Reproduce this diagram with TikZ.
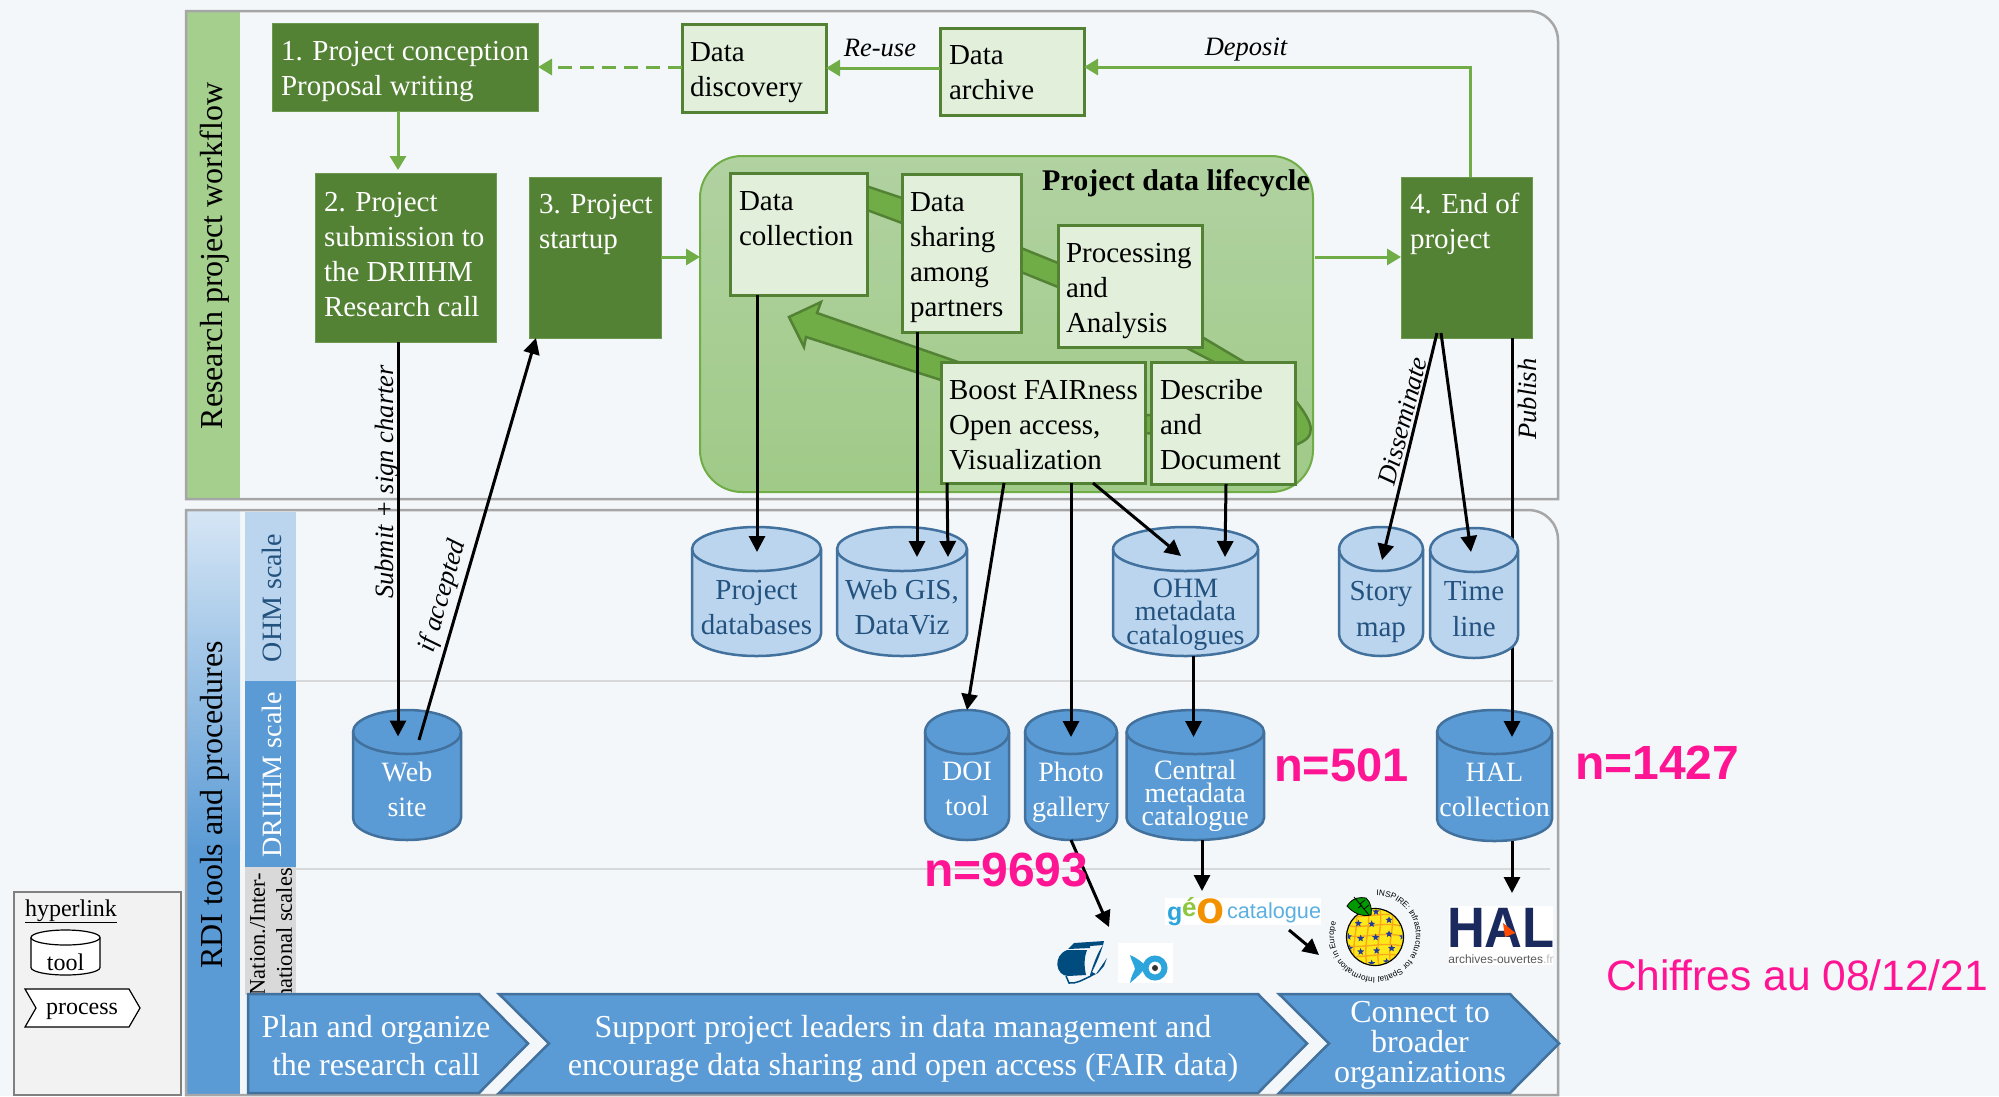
\documentclass[tikz,border=0pt]{standalone}
\usepackage{fontspec}
\setmainfont{Liberation Serif}
\setsansfont{Liberation Sans}
\usetikzlibrary{arrows.meta,calc,shapes.geometric,decorations.text}
\definecolor{pagebg}{HTML}{F3F7FA}
\definecolor{frameg}{HTML}{A6A6A6}
\definecolor{sepg}{HTML}{D6D8DA}
\definecolor{gdark}{HTML}{548235}
\definecolor{gmid}{HTML}{70AD47}
\definecolor{glight}{HTML}{E2EFDA}
\definecolor{gband}{HTML}{A4CF8C}
\definecolor{gtop}{HTML}{B1D2A1}
\definecolor{gbot}{HTML}{A0CA88}
\definecolor{bmid}{HTML}{5B9BD5}
\definecolor{bedge}{HTML}{41719C}
\definecolor{blight}{HTML}{BBD5EE}
\definecolor{bpale}{HTML}{D6E6F5}
\definecolor{bdark}{HTML}{23527F}
\definecolor{pinkn}{HTML}{FF1493}
\definecolor{halnavy}{HTML}{1B2A5E}
\definecolor{bookblue}{HTML}{004C7F}
\definecolor{fishblue}{HTML}{2CA5DC}
\definecolor{geoblue}{HTML}{5AB0E0}
\definecolor{geogreen}{HTML}{8DC63F}
\definecolor{geoorange}{HTML}{F39200}
\definecolor{ballyellow}{HTML}{FFE81A}
\definecolor{ballgrid}{HTML}{F7A81B}
\definecolor{ballstar}{HTML}{1F3C9C}
\tikzset{
  every node/.style={inner sep=0pt,outer sep=0pt},
  darkbox/.style={fill=gdark,draw=gdark!70!gband,line width=1pt,text=white,font=\fontsize{29}{35}\selectfont},
  lightbox/.style={fill=glight,draw=gdark,line width=3pt,text=black,font=\fontsize{29}{35}\selectfont},
  cyllight/.style={fill=blight,draw=bedge,line width=2.5pt},
  cyllighttxt/.style={text=bdark,font=\fontsize{29}{35}\selectfont},
  cyllighttight/.style={fill=blight,draw=bedge,line width=2.5pt},
  cyllighttighttxt/.style={text=bdark,font=\fontsize{28}{24}\selectfont},
  cyldark/.style={fill=bmid,draw=bedge,line width=2.5pt},
  cyldarktxt/.style={text=white,font=\fontsize{28}{35}\selectfont},
  cyllegend/.style={fill=white,draw=black,line width=1.2pt},
  cyllegendtxt/.style={text=black,font=\fontsize{24}{28}\selectfont},
  blk/.style={draw=black,line width=3pt,-{Triangle[length=16pt,width=16pt]}},
  grn/.style={draw=gmid,line width=3pt,-{Triangle[length=14pt,width=16pt]}},
  chev/.style={fill=bmid,draw=bedge,line width=2.5pt},
  chevtxt/.style={text=white,align=center},
  slabel/.style={font=\fontsize{26.5}{30}\itshape\selectfont,text=black},
  pinkbig/.style={text=pinkn,anchor=base west},
}
% style, name, x0, y0, x1, y1, inset, first baseline, text
\newcommand\bxnode[9]{%
  \pgfmathsetmacro\bw{#5-#3}\pgfmathsetmacro\bh{#6-#4}%
  \pgfmathsetmacro\bcx{(#3+#5)/2}\pgfmathsetmacro\bcy{(#4+#6)/2}%
  \node[#1] (#2) at (\bcx,\bcy) {\parbox[c][\bh pt][t]{\bw pt}{\raggedright\leftskip=#7pt\relax\baselineskip=35pt\relax\rule{0pt}{#8pt}#9}};%
}
\newcommand\cylry{22}
% style, name, x0, y0, x1, y1, first baseline, baselineskip, text
\newcommand\cylnode[9]{%
  \pgfmathsetmacro\cw{#5-#3}\pgfmathsetmacro\ch{#6-#4}%
  \pgfmathsetmacro\cx{(#3+#5)/2}\pgfmathsetmacro\cy{(#4+#6)/2}%
  \pgfmathsetmacro\rxx{(#5-#3)/2}%
  \pgfmathsetmacro\ka{#4+\cylry}\pgfmathsetmacro\kb{#6-\cylry}%
  \pgfmathsetmacro\ua{#4+\cylry*0.448}\pgfmathsetmacro\ub{#4+\cylry*1.552}%
  \pgfmathsetmacro\uc{#4+2*\cylry}\pgfmathsetmacro\ud{#6-\cylry*0.448}%
  \pgfmathsetmacro\xl{\cx-\rxx*0.552}\pgfmathsetmacro\xr{\cx+\rxx*0.552}%
  \path[#1] (#3,\ka) .. controls (#3,\ua) and (\xl,#4) .. (\cx,#4)
     .. controls (\xr,#4) and (#5,\ua) .. (#5,\ka) -- (#5,\kb)
     .. controls (#5,\ud) and (\xr,#6) .. (\cx,#6)
     .. controls (\xl,#6) and (#3,\ud) .. (#3,\kb) -- cycle;
  \path[#1,fill=none] (#3,\ka) .. controls (#3,\ub) and (\xl,\uc) .. (\cx,\uc)
     .. controls (\xr,\uc) and (#5,\ub) .. (#5,\ka);
  \node[#1txt] (#2) at (\cx,\cy) {\parbox[c][\ch pt][t]{\cw pt}{\centering\baselineskip=#8pt\relax\rule{0pt}{#7pt}#9}};%
}
\begin{document}
\begin{tikzpicture}[x=1pt,y=-1pt]
\useasboundingbox (0,0) rectangle (1999,1096);
\fill[pagebg] (0,0) rectangle (1999,1096);

% coloured bands
\fill[gband] (186,11) rectangle (240,499);
\shade[top color=bpale,bottom color=bmid] (186,510) rectangle (240,850);
\fill[bmid] (186,849.5) rectangle (240,1096);
\fill[blight] (245,512) rectangle (296,681);
\fill[bmid] (245,681) rectangle (296,867);
\fill[black!15] (245,867) rectangle (296,995);

% frames
\draw[frameg,line width=2.5pt] (186,499) -- (186,11) -- (1528,11) .. controls (1545,11) and (1558,24) .. (1558,41) -- (1558,499) -- cycle;
\draw[frameg,line width=2.5pt] (186,1095) -- (186,510) -- (1528,510) .. controls (1545,510) and (1558,523) .. (1558,540) -- (1558,1095) -- cycle;
\draw[sepg,line width=1.6pt] (296,681) -- (1553,681);
\draw[sepg,line width=1.6pt] (296,869) -- (1550,869);

% band labels
\node[rotate=90,font=\fontsize{32}{36}\selectfont] (lwork) at (215,256) {Research project workflow};
\node[rotate=90,font=\fontsize{32}{36}\selectfont] (lrdi) at (215,805) {RDI tools and procedures};
\node[rotate=90,font=\fontsize{28}{32}\selectfont,text=bdark] (lohm) at (272,598) {OHM scale};
\node[rotate=90,font=\fontsize{28}{32}\selectfont,text=white] (ldri) at (272,775) {DRIIHM scale};
\node[rotate=90,font=\fontsize{22.5}{27}\selectfont,align=center,text=black] (lnat) at (271,934) {Nation./Inter-\\national scales};

% lifecycle panel
\shade[top color=gtop,bottom color=gbot,draw=gmid,line width=2pt,rounded corners=42pt] (700,156) rectangle (1313,492);
\node[font=\fontsize{30}{35}\bfseries\selectfont] (llife) at (1176,183) {Project data lifecycle};

% loop arrow
\filldraw[fill=gmid,draw=gdark,line width=2.5pt,line join=miter]
  (860,184) -- (902,198) -- (1021,248) -- (1058,263) -- (1202,337) -- (1244,362) -- (1295,400)
  .. controls (1314,424) and (1318,437) .. (1295,445)
  -- (1145,433) -- (1100,420) -- (941,380) -- (806,337) -- (804,347) -- (789,317) -- (821,302) -- (817,313)
  -- (958,362) -- (1100,400) -- (1145,415) -- (1200,415) -- (1225,400) -- (1214,362) -- (1185,347)
  -- (1058,287) -- (1021,272) -- (902,223) -- (867,210) -- (860,207) -- cycle;

% boxes
\bxnode{darkbox}{bone}{272}{23}{538}{111}{9}{37}{1. Project conception\\Proposal writing}
\bxnode{darkbox}{btwo}{315}{173}{496}{342}{9}{38}{2. Project\\submission to\\the DRIIHM\\Research call}
\bxnode{darkbox}{bthree}{529}{177}{661}{338}{10}{36}{3. Project\\startup}
\bxnode{darkbox}{bfour}{1401}{177}{1532}{338}{9}{36}{4. End of\\project}
\bxnode{lightbox}{bdisc}{682}{24}{826}{112}{8}{37}{Data\\discovery}
\bxnode{lightbox}{barch}{940}{28}{1084}{115}{9}{36}{Data\\archive}
\bxnode{lightbox}{bcoll}{730}{173}{867}{295}{9}{37}{Data\\collection}
\bxnode{lightbox}{bshar}{902}{174}{1021}{332}{8}{37}{Data\\sharing\\among\\partners}
\bxnode{lightbox}{bproc}{1058}{225}{1202}{347}{8}{37}{Processing\\and\\Analysis}
\bxnode{lightbox}{bboost}{941}{362}{1145}{483}{8}{37}{Boost FAIRness\\Open access,\\Visualization}
\bxnode{lightbox}{bdesc}{1151}{362}{1295}{484}{9}{37}{Describe\\and\\Document}

% green connectors
\draw[grn] ($(bone.south west)+(126,0)$) -- ($(btwo.north west)+(83,-3)$);
\draw[grn,dashed,dash pattern=on 14pt off 8pt] (bdisc.west |- 0,67) -- (bone.east |- 0,67);
\draw[grn] (barch.west |- 0,68) -- (bdisc.east |- 0,68);
\draw[grn] ($(bfour.north west)+(69,0)$) |- (barch.east |- 0,67);
\draw[grn] (bthree.east |- 0,257) -- (700,257);
\draw[grn] (1315,257) -- (bfour.west |- 0,257);

% line that runs behind the Time line cylinder
\draw[draw=black,line width=3pt] ($(bfour.south west)+(111,0)$) -- (1512,700);

% cylinders
\cylnode{cyllight}{cdb}{692}{527}{821}{656}{72}{35}{Project\\databases}
\cylnode{cyllight}{cgis}{837}{527}{967}{656}{72}{35}{Web GIS,\\DataViz}
\cylnode{cyllighttight}{cohm}{1113}{527}{1258}{656}{70}{23.5}{OHM\\metadata\\catalogues}
\cylnode{cyllight}{cstory}{1339}{527}{1423}{656}{73}{36}{Story\\map}
\cylnode{cyllight}{ctime}{1430}{528}{1518}{658}{72}{36}{Time\\line}
\cylnode{cyldark}{cweb}{353}{710}{461}{840}{71}{35}{Web\\site}
\cylnode{cyldark}{cdoi}{925}{710}{1009}{840}{70}{35}{DOI\\tool}
\cylnode{cyldark}{cphoto}{1025}{710}{1117}{840}{71}{35}{Photo\\gallery}
\cylnode{cyldark}{ccent}{1126.5}{710}{1264}{840}{69}{23}{Central\\metadata\\catalogue}
\cylnode{cyldark}{chal}{1437}{710}{1552}{841}{71}{35}{HAL\\collection}

% logo: geo catalogue
\node[fill=white,minimum width=156pt,minimum height=27pt] (lgeo) at (1243,911.5) {};
\node[anchor=base west,font=\sffamily\bfseries\fontsize{25}{27}\selectfont,text=fishblue] (geog) at (1167,920) {g};
\node[anchor=base west,font=\sffamily\bfseries\fontsize{26}{27}\selectfont,text=geogreen] (geoe) at (1182,916) {é};
\node[anchor=base west,font=\sffamily\bfseries\fontsize{46}{48}\selectfont,text=geoorange] (geoo) at (1196,923.5) {o};
\node[anchor=base west,font=\sffamily\fontsize{21.7}{25}\selectfont,text=geoblue] (geoc) at (1227,918) {catalogue};

% logo: HAL
\node[fill=white,minimum width=104pt,minimum height=59pt] (lhal) at (1501,935.5) {};
\node[anchor=base,xscale=.92,font=\sffamily\bfseries\fontsize{57}{60}\selectfont,text=halnavy] (haltxt) at (1501,947) {HAL};
\fill[orange!60!red] (1503,923) -- (1515.5,933) -- (1505,937) -- cycle;
\node[anchor=base,font=\sffamily\fontsize{12}{14}\selectfont,text=black!65] (halsub) at (1501,963) {archives-ouvertes{\color{black!25}.fr}};

% logo: book
\fill[bookblue] (1067,950) -- (1087,950) .. controls (1084,958) and (1084,966) .. (1086,975) -- (1068,976)
   .. controls (1056,976) and (1052,956) .. (1067,950) -- cycle;
\fill[bookblue] (1068,949) -- (1074,943) -- (1104,941) -- (1103,945) -- (1090,946) -- (1090,948) -- cycle;
\fill[bookblue] (1103,945) .. controls (1100,955) and (1096,964) .. (1092,972) -- (1096,974) -- (1107,958) -- (1104,966) -- (1098,973) -- (1090,977) -- (1090,975) .. controls (1094,962) and (1098,952) .. (1103,945) -- cycle;
\draw[bookblue,line width=1.5pt] (1091,976) .. controls (1082,980) and (1076,984) .. (1069,983) -- (1066,976);

% logo: fish
\node[fill=white,minimum width=55pt,minimum height=40pt] (lfish) at (1145.5,963) {};
\fill[fishblue] (1130,955) .. controls (1137,958) and (1142,962) .. (1146,966)
   .. controls (1143,972) and (1136,978) .. (1130,983) .. controls (1131,976) and (1134,972) .. (1135,969)
   .. controls (1134,964) and (1131,960) .. (1130,955) -- cycle;
\node[circle,minimum size=19pt,fill=white,draw=fishblue,line width=6pt] (fisheye) at (1155,968) {};
\fill[black!80] (1155,968) circle[radius=3];

% logo: INSPIRE
\node[circle,minimum size=57pt,fill=ballyellow,draw=black,line width=1.2pt] (ball) at (1375,937) {};
\begin{scope}
\clip (1375,937) circle[radius=27.5];
\foreach \yy in {915,925,935,945,955}
  \draw[ballgrid,line width=1.4pt] (1345,\yy) .. controls (1360,\yy+5) and (1385,\yy-5) .. (1405,\yy+2);
\foreach \xx in {1355,1367,1379,1391}
  \draw[ballgrid,line width=1.4pt] (\xx,905) .. controls (\xx+6,925) and (\xx-6,945) .. (\xx+1,970);
\foreach \sx/\sy [count=\si] in {115/130,155/132,207/120,245/130,85/170,122/175,167/172,207/162,248/170,122/215,170/212,215/205,155/250,200/245,88/205,168/95}
  \node[star,star points=5,star point ratio=2.3,minimum size=7.5pt,fill=ballstar,name=st\si] at ({1320+\sx/3},{880+\sy/3}) {};
\end{scope}
\filldraw[fill=green!60!black,draw=black,line width=.8pt] (1347,906) .. controls (1353,897) and (1360,897) .. (1366,898)
   .. controls (1371,902) and (1372,910) .. (1371,915) .. controls (1362,917) and (1353,913) .. (1347,906) -- cycle;
\draw[black,line width=.8pt] (1354,897) -- (1369,915) (1360,904) -- (1365,900) (1364,909) -- (1369,905) (1358,908) -- (1362,905);
\begin{scope}[shift={(1375pt,-936pt)},x=1pt,y=1pt]
\path[postaction={decorate},decoration={text along path,text align=left,
   text={|\sffamily\fontsize{8.2}{10}\selectfont|INSPIRE: Infrastructure for Spatial Information in Europe}}]
   (88:41) arc[start angle=88,end angle=-250,radius=41];
\end{scope}

% black connectors
\coordinate (bookin) at (1109,927);
\draw[blk] ($(btwo.south west)+(83,0)$) -- ($(cweb.north west)+(45,26.5)$);
\draw[blk] ($(cweb.north west)+(66,30)$) -- ($(bthree.south west)+(7,0)$);
\draw[blk] ($(bcoll.south west)+(27,0)$) -- ($(cdb.north west)+(65,25)$);
\draw[blk] ($(bshar.south west)+(15,0)$) -- ($(cgis.north west)+(80,30)$);
\draw[blk] ($(bboost.south west)+(6,0)$) -- ($(cgis.north west)+(111,30)$);
\draw[blk] ($(bboost.south west)+(63,0)$) -- ($(cdoi.north west)+(42,0)$);
\draw[blk] ($(bboost.south west)+(130,0)$) -- ($(cphoto.north west)+(46,27)$);
\draw[blk] ($(bboost.south west)+(152,0)$) -- ($(cohm.north west)+(68,29)$);
\draw[blk] ($(bdesc.south west)+(75,0)$) -- ($(cohm.north west)+(112,30)$);
\draw[blk] ($(cohm.south west)+(80.5,0)$) -- ($(ccent.north west)+(67,27)$);
\draw[blk] ($(ccent.south west)+(75.5,0)$) -- ($(lgeo.north west)+(37,-7)$);
\draw[blk] ($(cphoto.south west)+(46,0)$) -- (bookin);
\draw[blk] ($(chal.south west)+(75,0)$) -- ($(lhal.north west)+(63,-13)$);
\draw[blk] ($(bfour.south west)+(36,-5)$) -- ($(cstory.north west)+(43,33)$);
\draw[blk] ($(bfour.south west)+(40,-5)$) -- ($(ctime.north west)+(41,24)$);
\draw[blk] ($(ctime.south west)+(82,-8)$) -- ($(chal.north west)+(75,27)$);
\draw[blk] ($(lgeo.south west)+(124,5)$) -- ($(ball.center)+(-56,18)$);

% connector labels
\node[slabel] (lreuse) at (880,48) {Re-use};
\node[slabel] (ldepo) at (1246,50) {Deposit};
\node[slabel,rotate=90] (lsub) at (387,482) {Submit + sign charter};
\node[slabel,rotate=73.8] (lacc) at (443,596) {if accepted};
\node[slabel,rotate=75.5] (ldis) at (1403,421) {Disseminate};
\node[slabel,rotate=90] (lpub) at (1527,399) {Publish};

% process chevrons
\path[chev] (248,994) -- (479,994) -- (528,1043.5) -- (479,1093) -- (248,1093) -- cycle;
\path[chev] (499,994) -- (1258,994) -- (1307,1043.5) -- (1258,1093) -- (499,1093) -- (549,1043.5) -- cycle;
\path[chev] (1279,994) -- (1510,994) -- (1559,1043.5) -- (1510,1093) -- (1279,1093) -- (1329,1043.5) -- cycle;
\node[chevtxt,font=\fontsize{32}{38}\selectfont] (tplan) at (376,1046) {Plan and organize\\the research call};
\node[chevtxt,font=\fontsize{32}{38}\selectfont] (tsup) at (903,1049) {Support project leaders in data management and\\encourage data sharing and open access (FAIR data)};
\node[chevtxt,font=\fontsize{32}{30}\selectfont] (tcon) at (1420,1045) {Connect to\\broader\\organizations};

% legend
\filldraw[fill=black!5,draw=black!50,line width=2.5pt] (14,892) rectangle (181,1095);
\node[anchor=base west,font=\fontsize{24}{28}\selectfont] (lhyp) at (25,916) {\underline{hyperlink}};
\renewcommand\cylry{7.5}
\cylnode{cyllegend}{ctool}{31}{930}{100}{975}{40}{28}{tool}
\filldraw[fill=white,draw=black,line width=1.2pt] (25,989) -- (129,989) -- (140,1008) -- (129,1027) -- (25,1027) -- (36,1008) -- cycle;
\node[anchor=base,font=\fontsize{24}{28}\selectfont] (lproc) at (82,1014) {process};

% figures
\node[pinkbig,font=\sffamily\bfseries\fontsize{47}{50}\selectfont] (n1) at (1274,781) {n=501};
\node[pinkbig,font=\sffamily\bfseries\fontsize{48}{50}\selectfont] (n2) at (1575,779) {n=1427};
\node[pinkbig,font=\sffamily\bfseries\fontsize{48}{50}\selectfont] (n3) at (924,886) {n=9693};
\node[anchor=base west,font=\sffamily\fontsize{42.5}{46}\selectfont,text=pinkn] (nd) at (1606,990) {Chiffres au 08/12/21};
\end{tikzpicture}
\end{document}
